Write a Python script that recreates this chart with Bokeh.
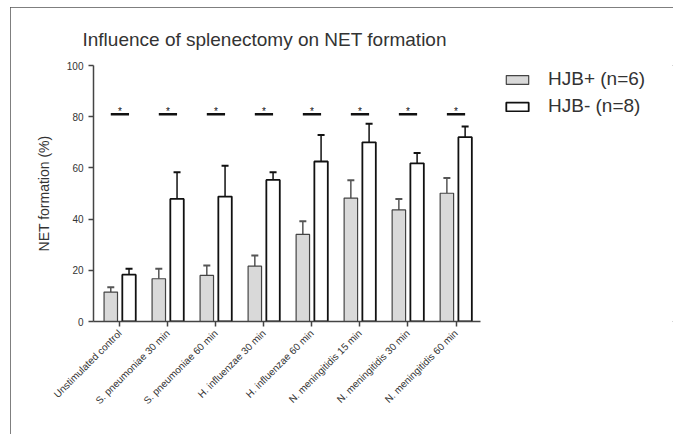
import math
from bokeh.plotting import figure
from bokeh.models import Legend, LegendItem, FixedTicker, Whisker, ColumnDataSource, Range1d
from bokeh.embed import file_html
from bokeh.resources import INLINE
from bokeh.core.properties import value

categories = [
    "Unstimulated control",
    "S. pneumoniae 30 min",
    "S. pneumoniae 60 min",
    "H. influenzae 30 min",
    "H. influenzae 60 min",
    "N. meningitidis 15 min",
    "N. meningitidis 30 min",
    "N. meningitidis 60 min",
]
hjb_pos = [11.5, 16.7, 18.0, 21.6, 34.0, 48.2, 43.6, 50.1]
hjb_pos_err = [1.9, 3.9, 3.9, 4.2, 5.2, 7.0, 4.3, 6.0]
hjb_neg = [18.3, 47.9, 48.8, 55.3, 62.5, 70.0, 61.8, 72.0]
hjb_neg_err = [2.3, 10.4, 12.0, 3.0, 10.4, 7.2, 4.0, 4.2]
sig_level = [81, 81, 81, 81, 81, 81, 81, 81]
y_ticks = [0, 20, 40, 60, 80, 100]

FONT = "Liberation Sans"
TXT = "#333333"
AX = "#444444"

xs = list(range(len(categories)))
off = 0.19
bw = 0.28

src = ColumnDataSource(dict(
    xp=[x - off for x in xs], xn=[x + off for x in xs],
    pos=hjb_pos, neg=hjb_neg,
    pos_up=[v + e for v, e in zip(hjb_pos, hjb_pos_err)],
    neg_up=[v + e for v, e in zip(hjb_neg, hjb_neg_err)],
    sx0=[x - off for x in xs], sx1=[x + off for x in xs],
    sy=sig_level, sx=xs, star_y=[s + 1.2 for s in sig_level],
    star=["*"] * len(xs),
))

# frame extends to the right edge so the legend can sit beside the bars;
# the x axis line itself is bounded to the category span
p = figure(width=663, height=427, output_backend="svg", toolbar_location=None,
           x_range=Range1d(-0.55, 11.53), y_range=Range1d(0, 100),
           min_border_left=83, min_border_right=0, min_border_top=58, min_border_bottom=113)
p.styles = {"margin-left": "10px", "margin-top": "7px",
            "outline": "1px solid #555555", "outline-offset": "-1px"}
p.outline_line_color = None
p.grid.visible = False
p.background_fill_color = "white"

p.title.text = "Influence of splenectomy on NET formation"
p.title.text_font = FONT
p.title.text_font_size = "19px"
p.title.text_font_style = "normal"
p.title.text_color = TXT
p.title.align = "left"
p.title.offset = -11
p.title.standoff = 31

r_pos = p.vbar(x="xp", top="pos", width=bw, source=src, fill_color="#d9d9d9",
               line_color="#444444", line_width=1.2)
r_neg = p.vbar(x="xn", top="neg", width=bw, source=src, fill_color="white",
               line_color="#111111", line_width=1.8)

for base, low, up, col in (("xp", "pos", "pos_up", "#555555"), ("xn", "neg", "neg_up", "#111111")):
    w = Whisker(base=base, lower=low, upper=up, source=src,
                line_color=col, line_width=1.5, lower_head=None)
    w.upper_head.size = 7
    w.upper_head.line_color = col
    w.upper_head.line_width = 2
    p.add_layout(w)

p.segment(x0="sx0", x1="sx1", y0="sy", y1="sy", source=src, line_color="#111111", line_width=2.5)
p.text(x="sx", y="star_y", text="star", source=src, text_align="center", text_baseline="middle",
       text_font=value(FONT), text_font_size="10px", text_color="#111111")

p.xaxis.ticker = FixedTicker(ticks=xs)
p.xaxis.bounds = (-0.55, 7.52)
p.xaxis.major_label_overrides = {i: c for i, c in enumerate(categories)}
p.xaxis.major_label_orientation = math.pi / 4
p.xaxis.minor_tick_line_color = None
p.xaxis.major_tick_out = 5
p.xaxis.major_tick_in = 0
p.xaxis.major_label_text_font_size = "10px"

p.yaxis.ticker = FixedTicker(ticks=y_ticks)
p.yaxis.minor_tick_line_color = None
p.yaxis.major_tick_out = 5
p.yaxis.major_tick_in = 0
p.yaxis.axis_label = "NET formation (%)"
p.yaxis.axis_label_text_font_size = "14px"
p.yaxis.axis_label_text_font_style = "normal"
p.yaxis.axis_label_standoff = 12
p.yaxis.major_label_text_font_size = "10px"

for ax in (p.xaxis, p.yaxis):
    ax.axis_line_color = AX
    ax.axis_line_width = 1.5
    ax.major_tick_line_color = AX
    ax.major_tick_line_width = 1.5
    ax.major_label_text_font = FONT
    ax.major_label_text_color = TXT
    ax.axis_label_text_font = FONT
    ax.axis_label_text_color = TXT

legend = Legend(items=[LegendItem(label="HJB+ (n=6)", renderers=[r_pos]),
                       LegendItem(label="HJB- (n=8)", renderers=[r_neg])],
                location=(410, 204))
legend.label_text_font = FONT
legend.label_text_font_size = "19px"
legend.label_text_color = TXT
legend.glyph_width = 28
legend.glyph_height = 11
legend.label_standoff = 17
legend.spacing = 5
legend.padding = 0
legend.margin = 0
legend.border_line_color = None
legend.background_fill_alpha = 0
p.add_layout(legend)

open("out.html", "w").write(file_html(p, INLINE))
